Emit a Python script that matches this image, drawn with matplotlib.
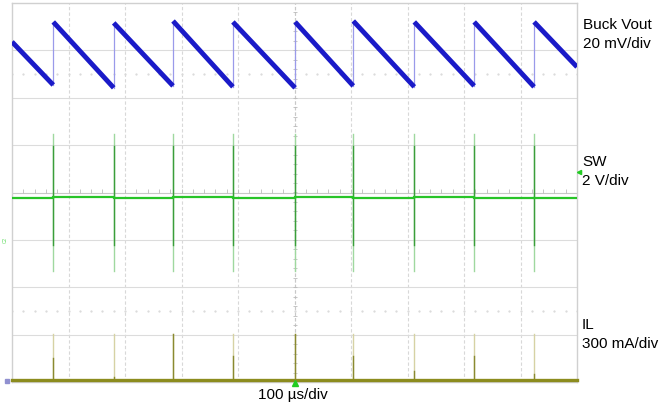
import numpy as np
import matplotlib
matplotlib.use("Agg")
import matplotlib.pyplot as plt

plt.rcParams["font.family"] = ["Liberation Sans", "DejaVu Sans"]

# --- data ---
# time base 100 us/div, 10 divisions
t_switch = [73, 180, 285, 391, 501, 604, 712, 818, 924]   # us, switching edges

# Buck Vout ripple (mV, AC), 20 mV/div
vout_start = 5.2
vout_end = -5.4
vout_peak = [13.6, 13.2, 14.0, 13.6, 13.6, 14.0, 13.6, 13.6, 13.6]
vout_trough = [-13.0, -14.2, -13.4, -13.8, -14.2, -13.4, -13.8, -13.4, -13.8]
vout_offset = 2.92          # div

# SW node (V), 2 V/div
sw_offset = -0.116          # div
sw_base = [0.0, 0.04, 0.02, 0.04, 0.0, 0.06, 0.02, 0.06, 0.02, 0.0]
sw_spike_top = 2.7
sw_spike_bot = -3.1
sw_core_top = 2.2
sw_core_bot = -2.0

# inductor current (mA), 300 mA/div
il_offset = -3.96           # div
il_spike = [291, 291, 291, 291, 291, 291, 291, 291, 291]
il_dark = [140, 20, 290, 150, 290, 150, 60, 150, 40]

fig = plt.figure(figsize=(6.61, 4.08), dpi=100, facecolor="w")
ax = fig.add_axes([12 / 661, 26 / 408, 565 / 661, 379 / 408])
ax.set_xlim(0, 1000)
ax.set_ylim(-4, 4)
ax.set_xticks([])
ax.set_yticks([])
for s in ax.spines.values():
    s.set_color("#d0d0d0")
    s.set_linewidth(1.0)

# graticule
for k in range(1, 10):
    ax.axvline(k * 100, color="#d8d8d8", lw=0.8, ls=(0, (3, 2)), zorder=0)
for k in [-3, -2, -1, 1, 2, 3]:
    ax.axhline(k, color="#dcdcdc", lw=0.8, zorder=0)
ax.axhline(0, color="#c8c8c8", lw=0.8, zorder=0)
ax.axvline(500, color="#c8c8c8", lw=0.8, ls=(0, (3, 2)), zorder=0)
xt = np.arange(0, 1001, 20)
ax.plot(xt, np.zeros_like(xt) + 0.03, ls="none", marker="|", ms=3, color="#bbbbbb", mew=0.6, zorder=0)
yt = np.arange(-4, 4.01, 0.2)
ax.plot(np.zeros_like(yt) + 500, yt, ls="none", marker="_", ms=3, color="#bbbbbb", mew=0.6, zorder=0)
for yy in [2.5, -2.5]:
    ax.plot(xt, np.zeros_like(xt) + yy, ls="none", marker=".", ms=1.2, color="#d8d8d8", zorder=0)

# Buck Vout
def vdiv(mv):
    return vout_offset + np.asarray(mv) / 20.0

seg_t = [0] + t_switch
seg_v0 = [vout_start] + vout_peak
seg_v1 = vout_trough + [vout_end]
seg_t1 = t_switch + [1000]
for a, b, v0, v1 in zip(seg_t, seg_t1, seg_v0, seg_v1):
    ax.plot([a, b], vdiv([v0, v1]), color="#1a1ac8", lw=3.5, solid_capstyle="butt", zorder=3)
for t, lo, hi in zip(t_switch, vout_trough, vout_peak):
    ax.plot([t, t], vdiv([lo, hi]), color="#9a9aea", lw=0.9, zorder=2)

# SW
def sdiv(v):
    return sw_offset + np.asarray(v) / 2.0

edges = [0] + t_switch + [1000]
for i in range(len(edges) - 1):
    ax.plot([edges[i], edges[i + 1]], sdiv([sw_base[i], sw_base[i]]), color="#28c428", lw=1.6, zorder=3)
for t in t_switch:
    ax.plot([t, t], sdiv([sw_spike_bot, sw_spike_top]), color="#9fd89f", lw=1.0, zorder=2)
    ax.plot([t, t], sdiv([sw_core_bot, sw_core_top]), color="#3a9e3a", lw=1.0, zorder=2)

# IL
def idiv(ma):
    return il_offset + np.asarray(ma) / 300.0

for t, hi, dk in zip(t_switch, il_spike, il_dark):
    ax.plot([t, t], idiv([0, hi]), color="#d6d2a4", lw=1.0, zorder=2)
    ax.plot([t, t], idiv([0, dk]), color="#8a8a30", lw=1.0, zorder=2)
ax.plot([0, 1000], idiv([0, 0]), color="#8c8c1e", lw=2.4, zorder=3, clip_on=False)

# markers
ax.plot(500, -4.02, marker="^", ms=4, color="#22cc22", clip_on=False, zorder=5)
ax.plot(1003, 0.43, marker="<", ms=3, color="#22cc22", clip_on=False, zorder=5)
ax.text(-12, -1.0, "C2", color="#66dd66", fontsize=3.5, rotation=90, ha="center", va="center")
ax.plot(-8, -3.97, marker="s", ms=2.5, color="#9090d0", clip_on=False, zorder=5)

# labels
fs = 11
fig.text(583 / 661, 1 - 25 / 408, "Buck Vout", fontsize=fs, va="center")
fig.text(583 / 661, 1 - 44 / 408, "20 mV/div", fontsize=fs, va="center")
fig.text(582 / 661, 1 - 162 / 408, "SW", fontsize=fs, va="center")
fig.text(582 / 661, 1 - 181 / 408, "2 V/div", fontsize=fs, va="center")
fig.text(582 / 661, 1 - 325 / 408, "IL", fontsize=fs, va="center")
fig.text(582 / 661, 1 - 344 / 408, "300 mA/div", fontsize=fs, va="center")
fig.text(293 / 661, 1 - 395 / 408, "100 µs/div", fontsize=fs, ha="center", va="center")

fig.savefig("out.png", dpi=100, facecolor="w")
